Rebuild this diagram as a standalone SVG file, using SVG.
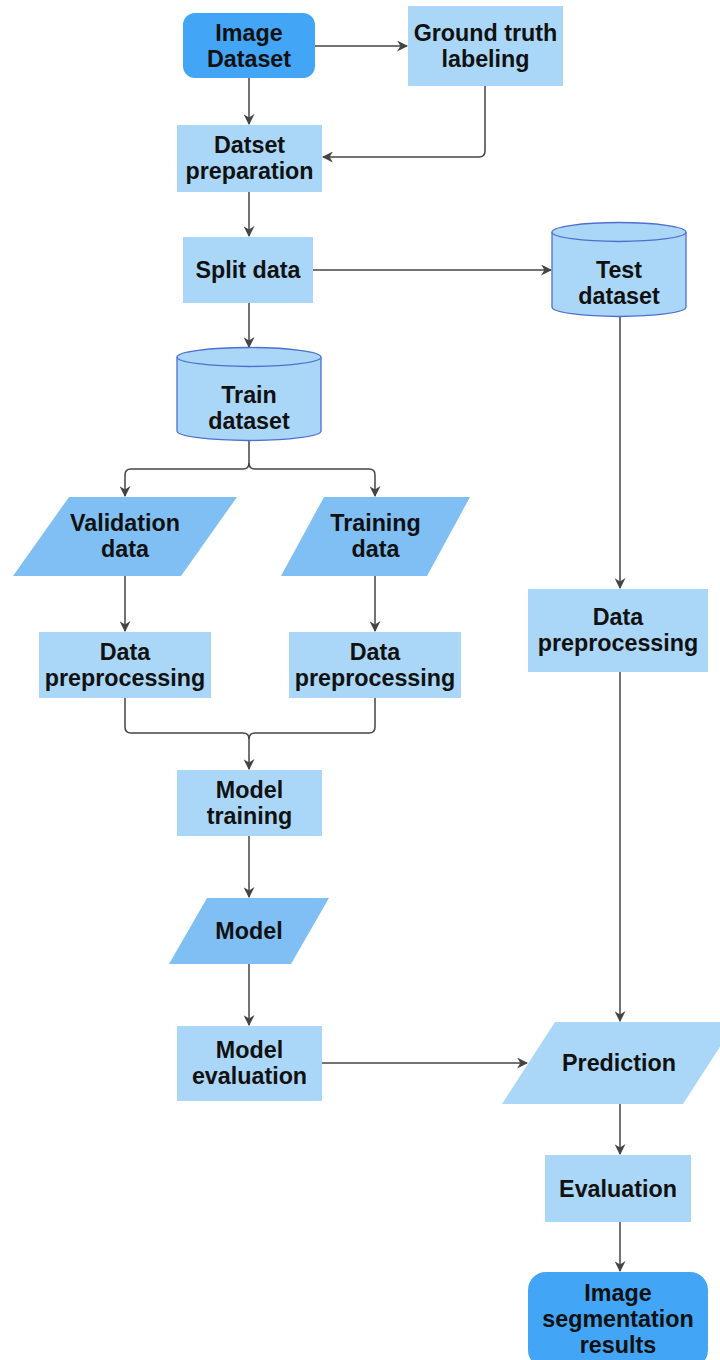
<svg xmlns="http://www.w3.org/2000/svg" width="720" height="1360" viewBox="0 0 720 1360">
<defs>
<marker id="arr" viewBox="0 0 10 10" refX="9" refY="5" markerWidth="11" markerHeight="11" markerUnits="userSpaceOnUse" orient="auto">
<path d="M0,0 L10,5 L0,10 L3,5 Z" fill="#444"/>
</marker>
<style>
.t{font-family:"Liberation Sans",Arial,sans-serif;font-weight:bold;font-size:23.3px;fill:#111;text-anchor:middle}
.lb{fill:#aad7f8;stroke:none}
.mb{fill:#7fbff4;stroke:none}
.db{fill:#42a5f5;stroke:none}
.cyl{fill:#aad7f8;stroke:#4f6fcf;stroke-width:1.3}
.c{fill:none;stroke:#444;stroke-width:1.5;marker-end:url(#arr)}
.cn{fill:none;stroke:#444;stroke-width:1.5}
</style>
</defs>
<rect width="720" height="1360" fill="#fff"/>
<g id="connectors">
<path class="c" d="M315,46 H407"/>
<path class="c" d="M485,86 V151 Q485,157 479,157 H323"/>
<path class="c" d="M249,78 V124"/>
<path class="c" d="M249,192 V236"/>
<path class="c" d="M313,270 H551"/>
<path class="c" d="M249,303 V347"/>
<path class="c" d="M249,440 V463 Q249,469 243,469 H131 Q125,469 125,475 V496"/>
<path class="c" d="M249,463 Q249,469 255,469 H369 Q375,469 375,475 V496"/>
<path class="c" d="M125,576 V631"/>
<path class="c" d="M375,576 V631"/>
<path class="cn" d="M125,698 V727 Q125,733 131,733 H243 Q249,733 249,739"/>
<path class="c" d="M375,698 V727 Q375,733 369,733 H255 Q249,733 249,739 V769"/>
<path class="c" d="M249,836 V897"/>
<path class="c" d="M249,964 V1025"/>
<path class="c" d="M620,316 V588"/>
<path class="c" d="M620,672 V1021"/>
<path class="c" d="M322,1063 H527"/>
<path class="c" d="M620,1104 V1154"/>
<path class="c" d="M620,1222 V1271"/>
</g>
<g id="image-dataset">
<rect class="db" x="183" y="13" width="132" height="65" rx="12"/>
<text class="t" x="249" y="41">Image</text>
<text class="t" x="249" y="67">Dataset</text>
</g>
<g id="ground-truth">
<rect class="lb" x="408" y="6" width="155" height="80"/>
<text class="t" x="485.5" y="41">Ground truth</text>
<text class="t" x="485.5" y="67">labeling</text>
</g>
<g id="dataset-prep">
<rect class="lb" x="177" y="125" width="145" height="67"/>
<text class="t" x="249.5" y="153">Datset</text>
<text class="t" x="249.5" y="179">preparation</text>
</g>
<g id="split-data">
<rect class="lb" x="183" y="237" width="130" height="66"/>
<text class="t" x="248" y="278">Split data</text>
</g>
<g id="test-dataset">
<path class="cyl" d="M552,232 A67,9.5 0 0 1 686,232 V307 A67,9.5 0 0 1 552,307 Z"/>
<path class="cyl" fill="none" d="M552,232 A67,9.5 0 0 0 686,232"/>
<text class="t" x="619" y="278">Test</text>
<text class="t" x="619" y="304">dataset</text>
</g>
<g id="train-dataset">
<path class="cyl" d="M177,357 A72,9.5 0 0 1 321,357 V431 A72,9.5 0 0 1 177,431 Z"/>
<path class="cyl" fill="none" d="M177,357 A72,9.5 0 0 0 321,357"/>
<text class="t" x="249" y="403">Train</text>
<text class="t" x="249" y="429">dataset</text>
</g>
<g id="validation-data">
<polygon class="mb" points="69,497 237,497 181,576 13,576"/>
<text class="t" x="125" y="531">Validation</text>
<text class="t" x="125" y="557">data</text>
</g>
<g id="training-data">
<polygon class="mb" points="324,497 470,497 427,576 281,576"/>
<text class="t" x="375.5" y="531">Training</text>
<text class="t" x="375.5" y="557">data</text>
</g>
<g id="preproc-left">
<rect class="lb" x="39" y="632" width="172" height="66"/>
<text class="t" x="125" y="660">Data</text>
<text class="t" x="125" y="686">preprocessing</text>
</g>
<g id="preproc-mid">
<rect class="lb" x="289" y="632" width="172" height="66"/>
<text class="t" x="375" y="660">Data</text>
<text class="t" x="375" y="686">preprocessing</text>
</g>
<g id="preproc-right">
<rect class="lb" x="528" y="589" width="180" height="83"/>
<text class="t" x="618" y="625">Data</text>
<text class="t" x="618" y="651">preprocessing</text>
</g>
<g id="model-training">
<rect class="lb" x="177" y="770" width="145" height="66"/>
<text class="t" x="249.5" y="798">Model</text>
<text class="t" x="249.5" y="824">training</text>
</g>
<g id="model">
<polygon class="mb" points="207,898 329,898 291,964 169,964"/>
<text class="t" x="249" y="939">Model</text>
</g>
<g id="model-evaluation">
<rect class="lb" x="177" y="1026" width="145" height="75"/>
<text class="t" x="249.5" y="1058">Model</text>
<text class="t" x="249.5" y="1084">evaluation</text>
</g>
<g id="prediction">
<polygon class="lb" points="555,1022 736,1022 683,1104 502,1104"/>
<text class="t" x="619" y="1071">Prediction</text>
</g>
<g id="evaluation">
<rect class="lb" x="545" y="1155" width="146" height="67"/>
<text class="t" x="618" y="1197">Evaluation</text>
</g>
<g id="seg-results">
<rect class="db" x="528" y="1272" width="180" height="96" rx="18"/>
<text class="t" x="618" y="1301">Image</text>
<text class="t" x="618" y="1327">segmentation</text>
<text class="t" x="618" y="1353">results</text>
</g>
</svg>
